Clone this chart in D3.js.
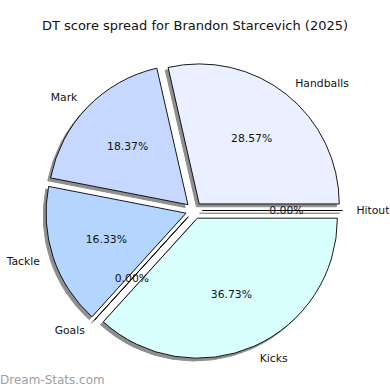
<!DOCTYPE html>
<html>
<head>
<meta charset="utf-8">
<script src="https://cdn.jsdelivr.net/npm/d3@7"></script>
<style>
  html, body { margin: 0; padding: 0; background: #fff; }
  svg { display: block; }
</style>
</head>
<body>
<svg id="chart" width="390" height="390"></svg>
<script>
const categories = ["Handballs", "Mark", "Tackle", "Goals", "Kicks", "Hitout"];
const values = [28.57, 18.37, 16.33, 0.00, 36.73, 0.00];
const colors = ["#eaf0ff", "#c6d8ff", "#b3d5ff", "#b3ecff", "#d9ffff", "#e0e8ff"];
const title = "DT score spread for Brandon Starcevich (2025)";
const watermark = "Dream-Stats.com";

const W = 390, H = 390;
const cx = 194, cy = 210.5, R = 140;
const explode = 0.06;
const font = "DejaVu Sans, sans-serif";

const svg = d3.select("#chart");

svg.append("text")
  .attr("x", 195).attr("y", 25)
  .attr("text-anchor", "middle").attr("dominant-baseline", "central")
  .attr("font-family", font).attr("font-size", 13).attr("fill", "#111")
  .text(title);

// counterclockwise from 3 o'clock (matplotlib style)
const pie = d3.pie().sort(null).value(d => d)
  .startAngle(Math.PI / 2).endAngle(Math.PI / 2 - 2 * Math.PI);
const arcs = pie(values);
const arc = d3.arc().innerRadius(0).outerRadius(R);

const g = svg.append("g").attr("transform", `translate(${cx},${cy})`);

function offs(d, dist) {
  const a = (d.startAngle + d.endAngle) / 2; // d3 angle: clockwise from 12
  return [Math.sin(a) * dist, -Math.cos(a) * dist];
}

// shadows
const sh = 0.02 * R;
g.selectAll("path.shadow").data(arcs).join("path")
  .attr("class", "shadow")
  .attr("transform", d => { const o = offs(d, explode * R); return `translate(${o[0] - sh},${o[1] + sh})`; })
  .attr("d", arc)
  .attr("fill", "#8f8f8f")
  .attr("stroke", "#8f8f8f").attr("stroke-width", 1);

// wedges
g.selectAll("path.wedge").data(arcs).join("path")
  .attr("class", "wedge")
  .attr("transform", d => { const o = offs(d, explode * R); return `translate(${o[0]},${o[1]})`; })
  .attr("d", arc)
  .attr("fill", (d, i) => colors[i])
  .attr("stroke", "#000").attr("stroke-width", 0.9).attr("stroke-linejoin", "round");

// labels
g.selectAll("text.lbl").data(arcs).join("text")
  .attr("class", "lbl")
  .each(function(d, i) {
    const o = offs(d, explode * R);
    const p = offs(d, 1.1 * R);
    const x = o[0] + p[0], y = o[1] + p[1];
    d3.select(this).attr("x", x).attr("y", y)
      .attr("text-anchor", x > 0.5 ? "start" : (x < -0.5 ? "end" : "middle"))
      .text(categories[i]);
  })
  .attr("dominant-baseline", "central")
  .attr("font-family", font).attr("font-size", 10.8).attr("fill", "#111");

// percentages
g.selectAll("text.pct").data(arcs).join("text")
  .attr("class", "pct")
  .each(function(d, i) {
    const o = offs(d, explode * R);
    const p = offs(d, 0.6 * R);
    d3.select(this).attr("x", o[0] + p[0]).attr("y", o[1] + p[1]).text(values[i].toFixed(2) + "%");
  })
  .attr("text-anchor", "middle").attr("dominant-baseline", "central")
  .attr("font-family", font).attr("font-size", 10.8).attr("fill", "#111");

svg.append("text")
  .attr("x", 0).attr("y", 380)
  .attr("dominant-baseline", "central")
  .attr("font-family", font).attr("font-size", 12).attr("fill", "#a0a0a0")
  .text(watermark);
</script>
</body>
</html>
